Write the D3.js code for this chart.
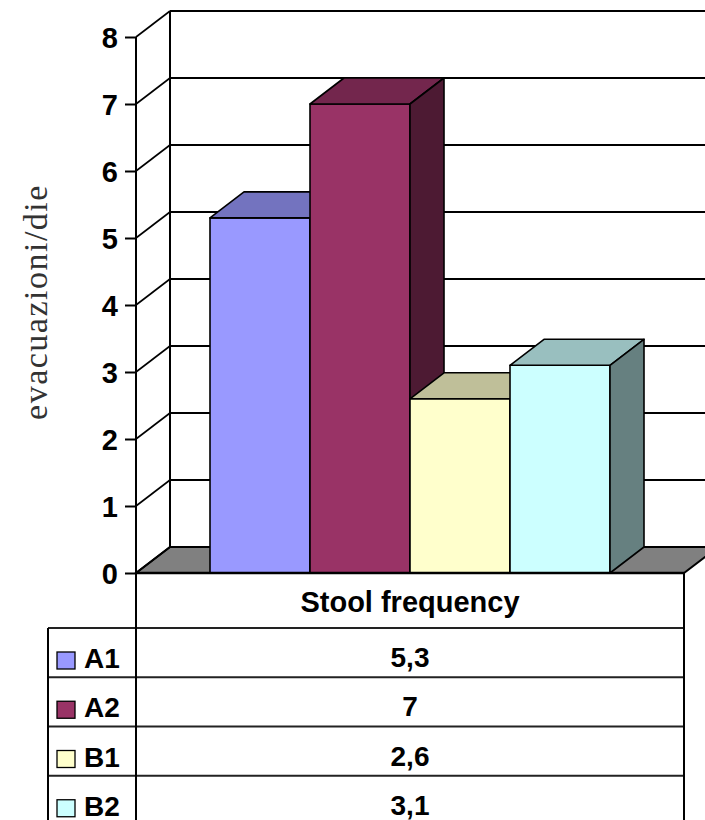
<!DOCTYPE html>
<html>
<head>
<meta charset="utf-8">
<script src="https://cdn.jsdelivr.net/npm/d3@7"></script>
<style>
  html, body { margin: 0; padding: 0; background: #fff; }
  svg { display: block; }
</style>
</head>
<body>
<svg id="chart" width="705" height="820"></svg>
<script>
// Stool frequency per group (evacuations per day)
const categories = ["A1", "A2", "B1", "B2"];
const values = [5.3, 7, 2.6, 3.1];
const frontColors = ["#9999FF", "#993366", "#FFFFCC", "#CCFFFF"];
const yTicks = [0, 1, 2, 3, 4, 5, 6, 7, 8];
const seriesTitle = "Stool frequency";
const yTitle = "evacuazioni/die";

const W = 705, H = 820;
const svg = d3.select("#chart");
const sans = "'Liberation Sans', Arial, sans-serif";

// plot frame (front plane) and 3D depth offset
const frontLeft = 136, frontRight = 684;
const depthX = 34, depthY = -26;

const y = d3.scaleLinear().domain([0, 8]).range([573, 37]);
const x = d3.scaleBand().domain(categories).range([210, 610]).paddingInner(0);

const itFmt = d3.formatLocale({ decimal: ",", thousands: ".", grouping: [3], currency: ["", "€"] }).format("~g");

const shade = (c, k) => {
  const r = d3.rgb(c);
  return d3.rgb(r.r * k, r.g * k, r.b * k).formatHex();
};
const poly = pts => "M" + pts.map(p => p.join(",")).join("L") + "Z";

const bg = svg.append("g");

// floor
bg.append("path")
  .attr("d", poly([[frontLeft, y(0)], [frontRight, y(0)], [frontRight + depthX, y(0) + depthY], [frontLeft + depthX, y(0) + depthY]]))
  .attr("fill", "#808080").attr("stroke", "#000").attr("stroke-width", 2);

// back wall gridlines and side wall diagonals
yTicks.forEach(t => {
  if (t > 0) {
    bg.append("line")
      .attr("x1", frontLeft + depthX).attr("x2", W)
      .attr("y1", y(t) + depthY).attr("y2", y(t) + depthY)
      .attr("stroke", "#000").attr("stroke-width", 2);
  }
  bg.append("line")
    .attr("x1", frontLeft).attr("y1", y(t))
    .attr("x2", frontLeft + depthX).attr("y2", y(t) + depthY)
    .attr("stroke", "#000").attr("stroke-width", 1.6);
});
// back wall left edge
bg.append("line")
  .attr("x1", frontLeft + depthX).attr("x2", frontLeft + depthX)
  .attr("y1", y(8) + depthY).attr("y2", y(0) + depthY)
  .attr("stroke", "#000").attr("stroke-width", 2);

// 3D columns, drawn left to right
const bars = svg.append("g");
categories.forEach((c, i) => {
  const x0 = x(c), x1 = x(c) + x.bandwidth();
  const yt = y(values[i]), yb = y(0);
  const g = bars.append("g").attr("stroke", "#000").attr("stroke-width", 1.6).attr("stroke-linejoin", "round");
  g.append("path")
    .attr("d", poly([[x0, yt], [x1, yt], [x1, yb], [x0, yb]]))
    .attr("fill", frontColors[i]);
  g.append("path")
    .attr("d", poly([[x0, yt], [x1, yt], [x1 + depthX, yt + depthY], [x0 + depthX, yt + depthY]]))
    .attr("fill", shade(frontColors[i], 0.75));
  g.append("path")
    .attr("d", poly([[x1, yt], [x1 + depthX, yt + depthY], [x1 + depthX, yb + depthY], [x1, yb]]))
    .attr("fill", shade(frontColors[i], 0.5));
});

// value axis
const axis = svg.append("g")
  .attr("transform", `translate(${frontLeft},0)`)
  .call(d3.axisLeft(y).tickValues(yTicks).tickSize(11).tickPadding(7).tickFormat(d3.format("d")));
axis.select(".domain").remove();
axis.selectAll(".tick line").attr("stroke", "#000").attr("stroke-width", 2);
axis.selectAll(".tick text")
  .attr("fill", "#000")
  .style("font-family", sans)
  .style("font-weight", "bold")
  .style("font-size", "29px")
  .attr("dy", "0.36em");

// axis title
svg.append("text")
  .attr("transform", `translate(47,302) rotate(-90)`)
  .attr("text-anchor", "middle")
  .style("font-family", "'Liberation Serif', 'Times New Roman', serif")
  .style("font-size", "34px")
  .style("letter-spacing", "1.5px")
  .attr("fill", "#333")
  .text(yTitle);

// data table
const tbl = svg.append("g");
const headerTop = y(0), headerBottom = 628;
const rows = d3.scaleBand().domain(categories).range([headerBottom, 825]);
const legendLeft = 48;

tbl.append("text")
  .attr("x", (frontLeft + frontRight) / 2).attr("y", 612)
  .attr("text-anchor", "middle")
  .style("font-family", sans)
  .style("font-weight", "bold").style("font-size", "29px")
  .text(seriesTitle);

categories.forEach((c, i) => {
  const top = rows(c);
  tbl.append("line")
    .attr("x1", legendLeft).attr("x2", frontRight)
    .attr("y1", top).attr("y2", top)
    .attr("stroke", "#222").attr("stroke-width", 2);
  tbl.append("rect")
    .attr("x", 57).attr("y", top + 24).attr("width", 18).attr("height", 17)
    .attr("fill", frontColors[i]).attr("stroke", "#000").attr("stroke-width", 1.3);
  tbl.append("text")
    .attr("x", 84).attr("y", top + 40)
    .style("font-family", sans)
    .style("font-weight", "bold").style("font-size", "28px")
    .text(c);
  tbl.append("text")
    .attr("x", (frontLeft + frontRight) / 2).attr("y", top + 39)
    .attr("text-anchor", "middle")
    .style("font-family", sans)
    .style("font-weight", "bold").style("font-size", "28px")
    .text(itFmt(values[i]));
});

// table verticals and front axis line
tbl.append("line").attr("x1", frontLeft).attr("x2", frontLeft).attr("y1", y(8)).attr("y2", H)
  .attr("stroke", "#000").attr("stroke-width", 2);
tbl.append("line").attr("x1", frontRight).attr("x2", frontRight).attr("y1", headerTop).attr("y2", H)
  .attr("stroke", "#000").attr("stroke-width", 2);
tbl.append("line").attr("x1", legendLeft).attr("x2", legendLeft).attr("y1", headerBottom).attr("y2", H)
  .attr("stroke", "#000").attr("stroke-width", 2);
tbl.append("line").attr("x1", frontLeft).attr("x2", frontRight).attr("y1", headerTop).attr("y2", headerTop)
  .attr("stroke", "#000").attr("stroke-width", 2.5);
</script>
</body>
</html>
